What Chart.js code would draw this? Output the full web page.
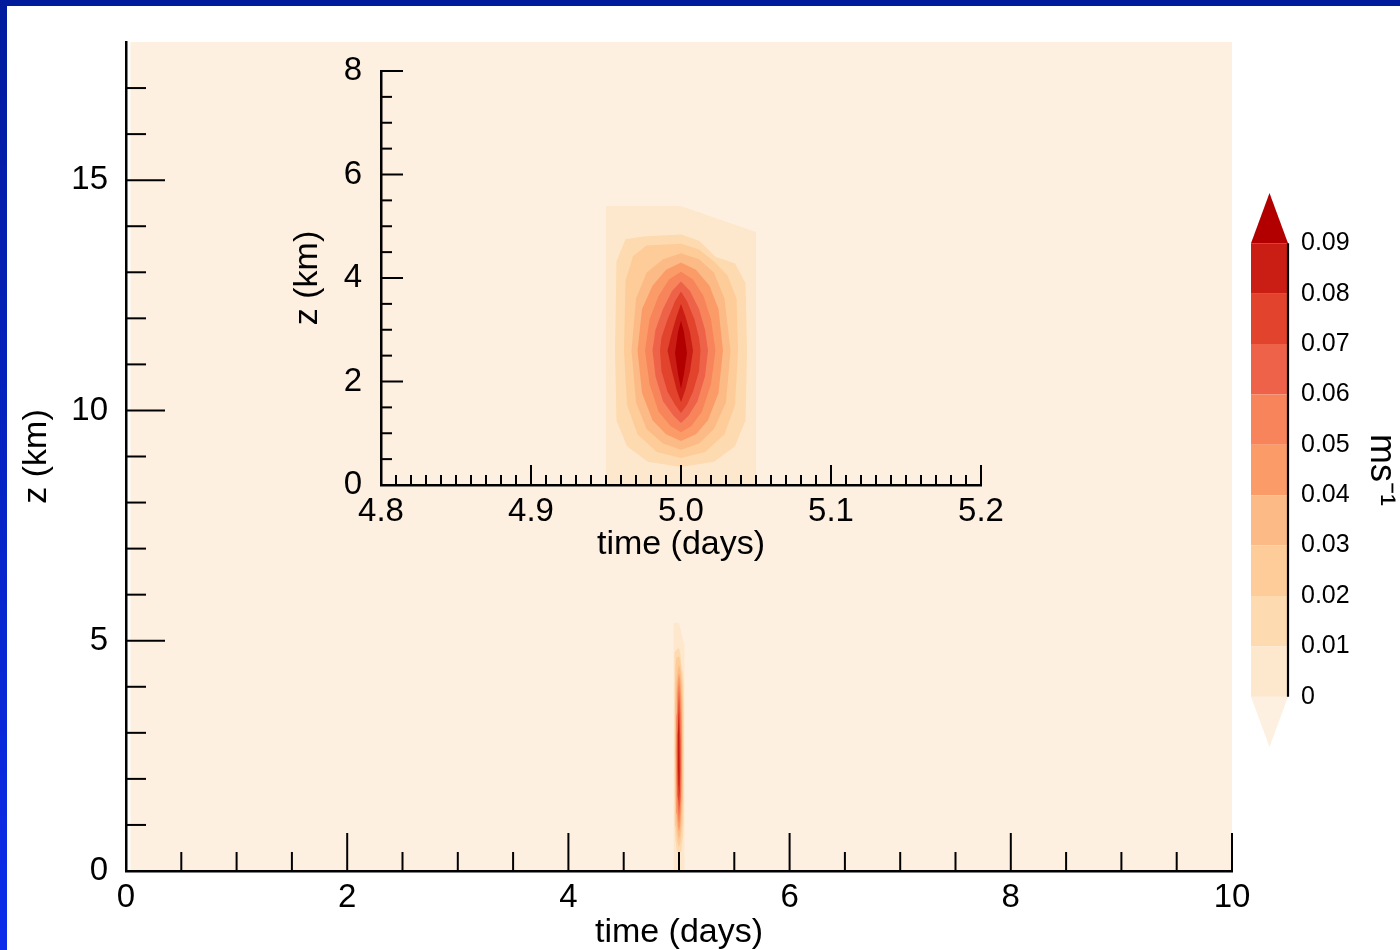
<!DOCTYPE html>
<html><head><meta charset="utf-8">
<script src="https://cdn.jsdelivr.net/npm/chart.js@4.4.0/dist/chart.umd.min.js"></script>
<style>
html,body{margin:0;padding:0;background:#fff;width:1400px;height:950px;overflow:hidden;}
#wrap{position:relative;width:1400px;height:950px;}
canvas{position:absolute;}
#main{left:0;top:0;}
#inset{left:260px;top:20px;}
#cbar{left:1230px;top:150px;}
.bt{position:absolute;left:0;top:0;width:1400px;height:6px;background:#001B9C;z-index:5}
.bl{position:absolute;left:0;top:0;width:7px;height:950px;background:linear-gradient(#001B9C,#0B2DEB);z-index:5}
</style></head>
<body><div id="wrap">
<canvas id="main" width="1400" height="950"></canvas>
<canvas id="inset" width="780" height="560"></canvas>
<canvas id="cbar" width="170" height="630"></canvas>
<div class="bt"></div><div class="bl"></div>
</div>
<script>
// ---------- tick labels ----------
const mainXLabels = [0, 2, 4, 6, 8, 10];
const mainXMinor = [0.5, 1, 1.5, 2.5, 3, 3.5, 4.5, 5, 5.5, 6.5, 7, 7.5, 8.5, 9, 9.5];
const mainYLabels = [0, 5, 10, 15];
const mainYMinor = [1, 2, 3, 4, 6, 7, 8, 9, 11, 12, 13, 14, 16, 17];
const insetXLabels = [4.8, 4.9, 5.0, 5.1, 5.2];
const insetXMinor = [4.81,4.82,4.83,4.84,4.85,4.86,4.87,4.88,4.89,4.91,4.92,4.93,4.94,4.95,4.96,4.97,4.98,4.99,
                     5.01,5.02,5.03,5.04,5.05,5.06,5.07,5.08,5.09,5.11,5.12,5.13,5.14,5.15,5.16,5.17,5.18,5.19];
const insetYLabels = [0, 2, 4, 6, 8];
const insetYMinor = [0.5, 1, 1.5, 2.5, 3, 3.5, 4.5, 5, 5.5, 6.5, 7, 7.5];

// ---------- colour levels (m s-1) ----------
const contourLevels = [0, 0.01, 0.02, 0.03, 0.04, 0.05, 0.06, 0.07, 0.08, 0.09];
const levelColors = ['#FDE8CD', '#FDDAAF', '#FDCC98', '#FCBB86', '#FB9C68', '#F7845A', '#EE6249', '#E2432C', '#CA1E14', '#B20000'];
const underColor = '#FEF0E0';

// field domain (time in days, z in km) – values below 0 there
const domainT = [0.04, 10, 10, 0.04, 0.04];
const domainZ = [0, 0, 18, 18, 0];

// ---------- contour regions (value >= level), time (days) / z (km) ----------
const ring0T = [4.95, 4.95, 5.00, 5.05, 5.05, 4.95];
const ring0Z = [0, 5.39, 5.39, 4.89, 0, 0];
const ring1T = [4.963, 4.975, 5.000, 5.012, 5.023, 5.036, 5.043, 5.044, 5.043, 5.036, 5.022, 5.000, 4.978, 4.964, 4.957, 4.956, 4.957, 4.963];
const ring1Z = [4.75, 4.80, 4.84, 4.72, 4.41, 4.28, 3.90, 2.60, 1.25, 0.75, 0.45, 0.35, 0.45, 0.75, 1.25, 2.60, 4.32, 4.75];
const ring2T = [4.977, 5.000, 5.012, 5.022, 5.031, 5.037, 5.038, 5.036, 5.029, 5.016, 5.000, 4.984, 4.971, 4.964, 4.962, 4.963, 4.968, 4.977];
const ring2Z = [4.63, 4.66, 4.55, 4.32, 4.05, 3.60, 2.60, 1.55, 0.98, 0.64, 0.52, 0.64, 0.98, 1.55, 2.60, 3.95, 4.42, 4.63];
const ring3T = [5.000, 5.012, 5.022, 5.029, 5.033, 5.030, 5.022, 5.012, 5.000, 4.988, 4.977, 4.970, 4.967, 4.970, 4.977, 4.988, 5.000];
const ring3Z = [4.48, 4.36, 4.10, 3.60, 2.60, 1.60, 1.08, 0.80, 0.68, 0.80, 1.08, 1.60, 2.60, 3.60, 4.10, 4.36, 4.48];
const ring4T = [5.000, 5.010, 5.019, 5.025, 5.028, 5.025, 5.018, 5.010, 5.000, 4.990, 4.981, 4.974, 4.971, 4.974, 4.981, 4.990, 5.000];
const ring4Z = [4.30, 4.16, 3.85, 3.40, 2.60, 1.78, 1.25, 0.98, 0.85, 0.98, 1.25, 1.78, 2.60, 3.40, 3.85, 4.16, 4.30];
const ring5T = [5.000, 5.008, 5.015, 5.020, 5.023, 5.020, 5.014, 5.007, 5.000, 4.993, 4.985, 4.979, 4.976, 4.979, 4.985, 4.992, 5.000];
const ring5Z = [4.12, 3.97, 3.65, 3.20, 2.60, 1.95, 1.42, 1.14, 1.02, 1.14, 1.42, 1.95, 2.60, 3.20, 3.65, 3.97, 4.12];
const ring6T = [5.000, 5.006, 5.012, 5.016, 5.018, 5.016, 5.011, 5.005, 5.000, 4.995, 4.988, 4.983, 4.981, 4.983, 4.988, 4.994, 5.000];
const ring6Z = [3.93, 3.75, 3.40, 3.00, 2.60, 2.10, 1.62, 1.34, 1.20, 1.34, 1.62, 2.10, 2.60, 3.00, 3.40, 3.75, 3.93];
const ring7T = [5.000, 5.004, 5.009, 5.012, 5.013, 5.012, 5.008, 5.004, 5.000, 4.996, 4.991, 4.987, 4.986, 4.987, 4.991, 4.996, 5.000];
const ring7Z = [3.74, 3.55, 3.20, 2.85, 2.60, 2.20, 1.80, 1.55, 1.39, 1.55, 1.80, 2.20, 2.60, 2.85, 3.20, 3.55, 3.74];
const ring8T = [5.000, 5.003, 5.006, 5.008, 5.006, 5.003, 5.000, 4.997, 4.994, 4.991, 4.994, 4.997, 5.000];
const ring8Z = [3.50, 3.25, 2.95, 2.60, 2.20, 1.85, 1.60, 1.85, 2.20, 2.60, 2.95, 3.25, 3.50];
const ring9T = [5.000, 5.002, 5.004, 5.002, 5.000, 4.998, 4.996, 4.998, 5.000];
const ring9Z = [3.18, 2.95, 2.55, 2.15, 1.86, 2.15, 2.55, 2.95, 3.18];

const rings = [[ring0T, ring0Z], [ring1T, ring1Z], [ring2T, ring2Z], [ring3T, ring3Z], [ring4T, ring4Z],
               [ring5T, ring5Z], [ring6T, ring6Z], [ring7T, ring7Z], [ring8T, ring8Z], [ring9T, ring9Z]];

// ---------- helpers ----------
const FONT = "'Liberation Sans', Arial, Helvetica, sans-serif";
Chart.defaults.font.family = FONT;
Chart.defaults.color = '#000';

function poly(ts, zs) { return ts.map((t, i) => ({x: t, y: zs[i]})); }
function shapeDs(ts, zs, color, order) {
  return {data: poly(ts, zs), fill: 'shape', backgroundColor: color, borderColor: 'rgba(0,0,0,0)',
          borderWidth: 0, pointRadius: 0, tension: 0, order: order};
}
function contourDatasets() {
  return rings.map((r, k) => shapeDs(r[0], r[1], levelColors[k], 50 - k));
}

const insideTicks = {
  id: 'insideTicks',
  afterDraw(chart, args, opts) {
    const ctx = chart.ctx, ca = chart.chartArea;
    ctx.save();
    ctx.strokeStyle = '#000';
    ctx.lineWidth = opts.width;
    for (const spec of opts.specs) {
      const sc = chart.scales[spec.axis];
      for (const v of spec.values) {
        const p = sc.getPixelForValue(v);
        ctx.beginPath();
        if (spec.axis === 'x') { ctx.moveTo(p, ca.bottom); ctx.lineTo(p, ca.bottom - spec.len); }
        else { ctx.moveTo(ca.left, p); ctx.lineTo(ca.left + spec.len, p); }
        ctx.stroke();
      }
    }
    ctx.restore();
  }
};

function axis(min, max, labels, fmt, tickFont, pad, fitSize, horiz, title, titleSize, titlePad) {
  return {
    type: 'linear', min: min, max: max,
    grid: {display: false, drawTicks: false},
    border: {display: true, color: '#000', width: 2.5, z: 1},
    ticks: {padding: pad, font: {size: tickFont}, color: '#000', maxRotation: 0, minRotation: 0, autoSkip: false, callback: fmt},
    afterBuildTicks: s => { s.ticks = labels.map(v => ({value: v})); },
    afterFit: s => { if (horiz) s.height = fitSize; else s.width = fitSize; },
    title: {display: true, text: title, color: '#000', font: {size: titleSize, lineHeight: 1}, padding: titlePad}
  };
}

// ---------- main chart ----------
new Chart(document.getElementById('main'), {
  type: 'line',
  data: {datasets: [shapeDs(domainT, domainZ, underColor, 100)].concat(contourDatasets())},
  options: {
    responsive: false, animation: false, devicePixelRatio: 1,
    layout: {padding: {left: 0, top: 42, right: 168, bottom: 0}},
    plugins: {legend: {display: false}, tooltip: {enabled: false},
      insideTicks: {width: 2, specs: [
        {axis: 'x', values: mainXLabels, len: 38}, {axis: 'x', values: mainXMinor, len: 19},
        {axis: 'y', values: mainYLabels, len: 39}, {axis: 'y', values: mainYMinor, len: 20}]}},
    scales: {
      x: axis(0, 10, mainXLabels, v => String(v), 33, 7, 79, true, 'time (days)', 34, {top: 0, bottom: 0}),
      y: axis(0, 18, mainYLabels, v => String(v), 33, 18, 126, false, 'z (km)', 34, {top: 20, bottom: 0})
    }
  },
  plugins: [insideTicks]
});

// ---------- inset chart ----------
new Chart(document.getElementById('inset'), {
  type: 'line',
  data: {datasets: contourDatasets()},
  options: {
    responsive: false, animation: false, devicePixelRatio: 1,
    layout: {padding: {left: 0, top: 51, right: 59, bottom: 0}},
    plugins: {legend: {display: false}, tooltip: {enabled: false},
      insideTicks: {width: 2, specs: [
        {axis: 'x', values: insetXLabels, len: 20}, {axis: 'x', values: insetXMinor, len: 10},
        {axis: 'y', values: insetYLabels, len: 22}, {axis: 'y', values: insetYMinor, len: 11}]}},
    scales: {
      x: axis(4.8, 5.2, insetXLabels, v => v.toFixed(1), 33, 7, 95, true, 'time (days)', 34, {top: 0, bottom: 18}),
      y: axis(0, 8, insetYLabels, v => String(v), 33, 19, 121, false, 'z (km)', 34, {top: 31, bottom: 0})
    }
  },
  plugins: [insideTicks]
});

// ---------- colour bar ----------
const cbDatasets = [];
contourLevels.forEach((lo, k) => {
  const hi = lo + 0.01;
  if (k < contourLevels.length - 1) {
    cbDatasets.push(shapeDs([0, 1, 1, 0, 0], [lo, lo, hi, hi, lo], levelColors[k], 10));
  } else {
    cbDatasets.push(shapeDs([0, 1, 0.5, 0], [lo, lo, hi, lo], levelColors[k], 10));
  }
});
cbDatasets.push(shapeDs([0, 1, 0.5, 0], [0, 0, -0.01, 0], underColor, 10));
cbDatasets.push({data: poly([1, 1], [0, 0.09]), borderColor: '#000', borderWidth: 2.2, pointRadius: 0, fill: false, clip: 6, order: 0});

new Chart(document.getElementById('cbar'), {
  type: 'line',
  data: {datasets: cbDatasets},
  options: {
    responsive: false, animation: false, devicePixelRatio: 1,
    layout: {padding: {left: 21, top: 43, right: 0, bottom: 33}},
    plugins: {legend: {display: false}, tooltip: {enabled: false}},
    scales: {
      x: {type: 'linear', min: 0, max: 1, display: false},
      y: {type: 'linear', position: 'right', min: -0.01, max: 0.1,
          grid: {display: false, drawTicks: false}, border: {display: false},
          ticks: {padding: 13, font: {size: 25}, color: '#000', callback: v => v === 0 ? '0' : v.toFixed(2)},
          afterBuildTicks: s => { s.ticks = contourLevels.map(v => ({value: v})); },
          afterFit: s => { s.width = 112; },
          title: {display: true, text: 'ms\u207B\u00B9', color: '#000', font: {size: 36, lineHeight: 1}, padding: {top: 1, bottom: 0}}}
    }
  }
});
</script>
</body></html>
